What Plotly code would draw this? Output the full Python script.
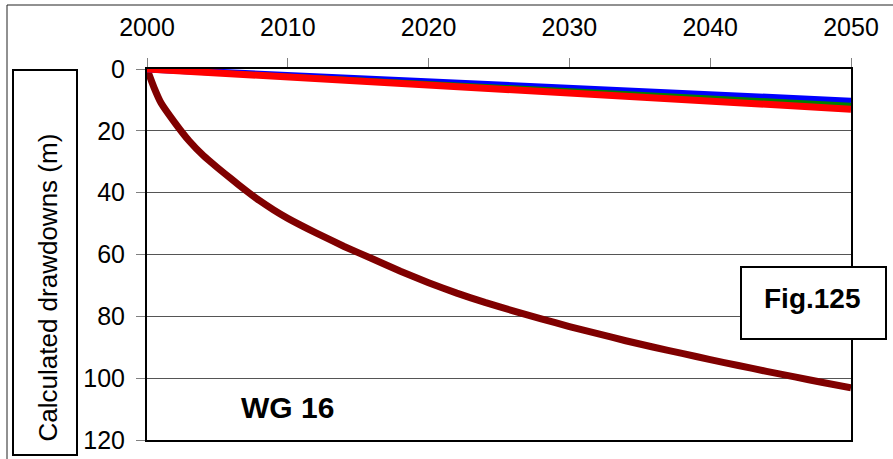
import plotly.graph_objects as go

# ---- data ----
years_main = [2000, 2000.5, 2001, 2002, 2003, 2004, 2005, 2006, 2007, 2008, 2009, 2010,
              2012, 2014, 2016, 2018, 2020, 2022, 2024, 2026, 2028, 2030, 2032, 2034,
              2036, 2038, 2040, 2042, 2044, 2046, 2048, 2050]
drawdown_main = [0, 6, 11, 17.5, 23.3, 28, 31.9, 35.6, 39.2, 42.6, 45.6, 48.3,
                 53, 57.4, 61.4, 65.4, 69.1, 72.5, 75.5, 78.2, 80.8, 83.3, 85.6, 87.9,
                 90, 92, 94, 95.9, 97.8, 99.6, 101.4, 103.1]

years_lin = [2000, 2050]
drawdown_blue = [0, 10.4]
drawdown_green = [0, 11.7]
drawdown_red = [0, 13.0]

x_ticks = [2000, 2010, 2020, 2030, 2040, 2050]
y_ticks = [0, 20, 40, 60, 80, 100, 120]

W, H = 893, 459
FONT = "Arial, Liberation Sans, sans-serif"

def px(x):
    return x / W

def py(y):
    return 1 - y / H

fig = go.Figure()
fig.add_trace(go.Scatter(x=years_main, y=drawdown_main, mode="lines",
                         line=dict(color="#800000", width=7, shape="spline", smoothing=0.4),
                         showlegend=False))
fig.add_trace(go.Scatter(x=years_lin, y=drawdown_blue, mode="lines",
                         line=dict(color="#0000ff", width=7), showlegend=False))
fig.add_trace(go.Scatter(x=years_lin, y=drawdown_green, mode="lines",
                         line=dict(color="#008000", width=5), showlegend=False))
fig.add_trace(go.Scatter(x=years_lin, y=drawdown_red, mode="lines",
                         line=dict(color="#ff0000", width=7), showlegend=False))

fig.update_layout(
    width=W, height=H,
    margin=dict(l=0, r=0, t=0, b=0, autoexpand=False),
    paper_bgcolor="white", plot_bgcolor="white",
    font=dict(family=FONT, color="black"),
    xaxis=dict(domain=[147 / W, 851 / W], range=[2000, 2050], side="top",
               tickvals=x_ticks, ticks="outside", ticklen=9, tickcolor="#808080",
               tickwidth=1, showline=True, linecolor="black", linewidth=2,
               mirror=True, showgrid=False, zeroline=False, automargin=False,
               tickfont=dict(size=25), ticklabelstandoff=12),
    yaxis=dict(domain=[19 / H, 390 / H], range=[120, 0],
               tickvals=y_ticks, ticks="outside", ticklen=9, tickcolor="#808080",
               tickwidth=1, showline=True, linecolor="black", linewidth=2,
               mirror=True, showgrid=True, gridcolor="#555555", gridwidth=1,
               zeroline=False, automargin=False,
               tickfont=dict(size=25), ticklabelstandoff=6),
)

shapes = [
    # outer border (top and left)
    dict(type="line", xref="paper", yref="paper", x0=px(7), x1=px(893), y0=py(5), y1=py(5),
         line=dict(color="#222222", width=1)),
    dict(type="line", xref="paper", yref="paper", x0=px(7), x1=px(7), y0=py(5), y1=py(459),
         line=dict(color="#222222", width=1)),
    # y title box
    dict(type="rect", xref="paper", yref="paper", x0=px(13), x1=px(77), y0=py(455), y1=py(70),
         line=dict(color="black", width=2), fillcolor="white", layer="above"),
    # Fig box
    dict(type="rect", xref="paper", yref="paper", x0=px(741), x1=px(886), y0=py(339), y1=py(267),
         line=dict(color="black", width=2), fillcolor="white", layer="above"),
]
fig.update_layout(shapes=shapes)

fig.add_annotation(text="Calculated drawdowns (m)", xref="paper", yref="paper",
                   x=px(47), y=py(287.5), showarrow=False, textangle=-90,
                   font=dict(size=26, family=FONT), xanchor="center", yanchor="middle")
fig.add_annotation(text="<b>WG 16</b>", xref="paper", yref="paper",
                   x=px(287), y=py(407), showarrow=False,
                   font=dict(size=30, family=FONT), xanchor="center", yanchor="middle")
fig.add_annotation(text="<b>Fig.125</b>", xref="paper", yref="paper",
                   x=px(812), y=py(298), showarrow=False,
                   font=dict(size=28, family=FONT), xanchor="center", yanchor="middle")

fig.write_html("out.html", config={"displayModeBar": False},
               post_script="document.body.style.margin='0';document.body.style.overflow='hidden';")
